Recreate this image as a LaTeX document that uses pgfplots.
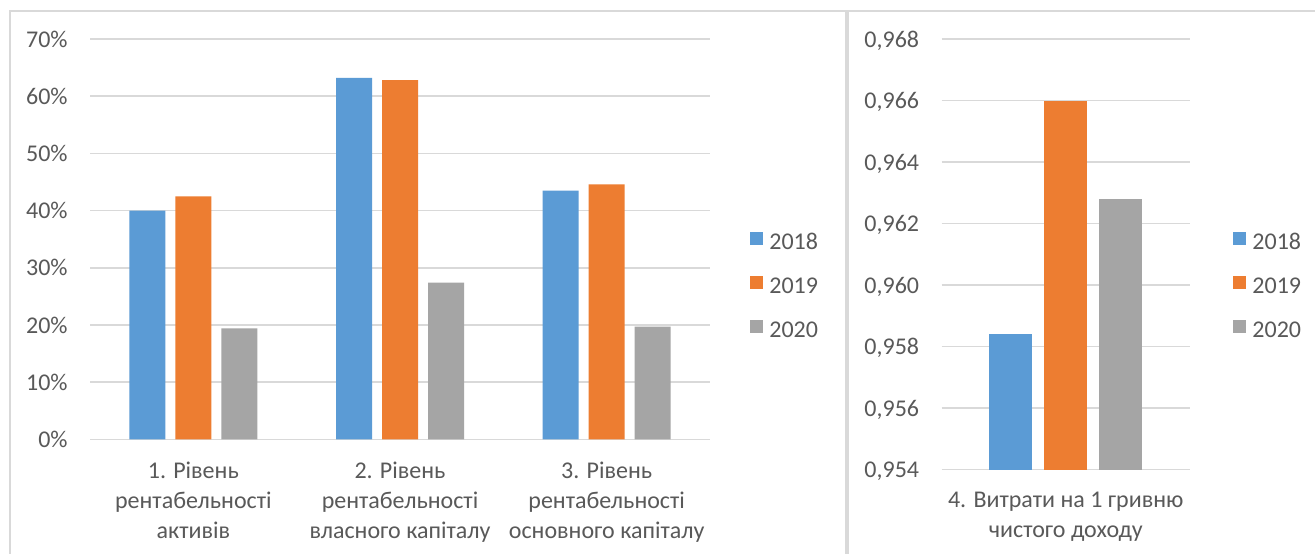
\documentclass[border=0pt]{standalone}
\usepackage{fontspec}
\setmainfont{Carlito}
\usepackage{pgfplots}
\pgfplotsset{compat=1.18}
\definecolor{cBlue}{HTML}{5B9BD5}
\definecolor{cOrange}{HTML}{ED7D31}
\definecolor{cGray}{HTML}{A5A5A5}
\definecolor{cGrid}{HTML}{D9D9D9}
\definecolor{cText}{HTML}{595959}
\definecolor{cFrame}{HTML}{D9D9D9}

\pgfplotsset{
  ybar legend/.style={legend image code/.code={\fill[##1,draw=none] (0pt,-1.5pt) rectangle (6.5pt,5pt);}},
  excel/.style={
    scale only axis,
    enlargelimits=false,
    axis line style={draw=none},
    major tick length=0pt,
    ymajorgrids,
    grid style={cGrid, line width=0.75pt},
    /pgf/number format/assume math mode=true,
    tick label style={font=\fontsize{12}{15}\selectfont, text=cText},
    yticklabel style={anchor=east, inner sep=0pt, text depth=0pt, xshift=-11pt},
    xticklabel style={anchor=north, inner sep=0pt, align=center, yshift=-11pt},
    legend style={draw=none, fill=none, inner sep=0pt,
      font=\fontsize{12}{15}\selectfont, text=cText,
      row sep=13.15pt, column sep=3pt,
      nodes={inner sep=0pt, text height=7.6pt, text depth=0pt}},
    legend cell align=left,
  }
}

\begin{document}
\begin{tikzpicture}
\useasboundingbox (0,0) rectangle (657.5pt,-276.5pt);
\fill[white] (0,0) rectangle (657.5pt,-276.5pt);
\draw[cFrame, line width=1pt] (4.75pt,-280pt) -- (4.75pt,-5.25pt) -- (422.75pt,-5.25pt) -- (422.75pt,-280pt);
\draw[cFrame, line width=1pt] (423.9pt,-280pt) -- (423.9pt,-5.25pt) -- (662pt,-5.25pt);

\begin{axis}[excel,
  at={(45pt,-219.65pt)}, anchor=south west,
  width=310pt, height=200.15pt,
  ybar=5pt, bar width=18pt,
  xmin=-0.5, xmax=2.5, ymin=0, ymax=70,
  xtick={0,1,2},
  xticklabels={{1. Рівень\\рентабельності\\активів},{2. Рівень\\рентабельності\\власного капіталу},{3. Рівень\\рентабельності\\основного капіталу}},
  ytick={0,10,20,30,40,50,60,70},
  yticklabels={0\%,10\%,20\%,30\%,40\%,50\%,60\%,70\%},
  legend style={at={(axis description cs:1.0645,0.3855)}, anchor=west},
]
\addplot[fill=cBlue, draw=none] coordinates {(0,40.0) (1,63.2) (2,43.5)};
\addplot[fill=cOrange, draw=none] coordinates {(0,42.5) (1,62.8) (2,44.6)};
\addplot[fill=cGray, draw=none] coordinates {(0,19.4) (1,27.4) (2,19.7)};
\legend{2018,2019,2020}
\end{axis}

\begin{axis}[excel,
  at={(470.75pt,-234.75pt)}, anchor=south west,
  width=124.25pt, height=215.25pt,
  ybar=6pt, bar width=21.5pt,
  xmin=-0.5, xmax=0.5, ymin=0.954, ymax=0.968,
  xtick={0},
  xticklabels={{4. Витрати на 1 гривню\\чистого доходу}},
  ytick={0.954,0.956,0.958,0.960,0.962,0.964,0.966,0.968},
  yticklabels={{0,954},{0,956},{0,958},{0,960},{0,962},{0,964},{0,966},{0,968}},
  legend style={at={(axis description cs:1.173,0.4286)}, anchor=west},
]
\addplot[fill=cBlue, draw=none] coordinates {(0,0.9584)};
\addplot[fill=cOrange, draw=none] coordinates {(0,0.9660)};
\addplot[fill=cGray, draw=none] coordinates {(0,0.9628)};
\legend{2018,2019,2020}
\end{axis}
\end{tikzpicture}
\end{document}
